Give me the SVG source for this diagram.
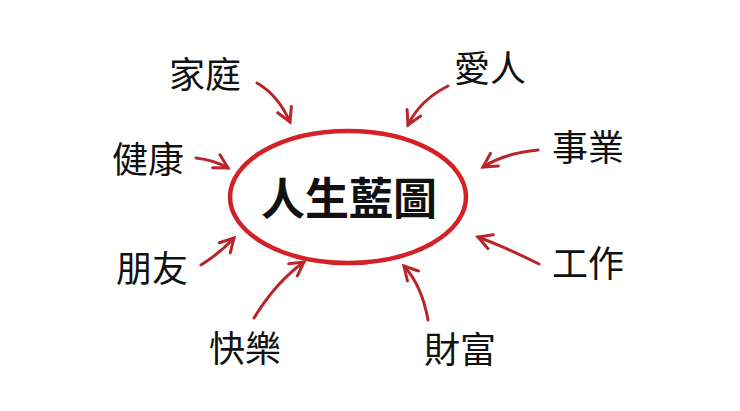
<svg xmlns="http://www.w3.org/2000/svg" width="740" height="411" viewBox="0 0 740 411">
<defs>
<style>
.t{font-family:"Noto Sans CJK TC","Noto Sans CJK SC",sans-serif;font-size:36px;fill:#111;text-anchor:middle;dominant-baseline:central}
.c{font-size:44px;font-weight:bold}
.a{fill:none;stroke:#b8252b;stroke-width:3;stroke-linecap:round}
</style>
<marker id="h" viewBox="0 0 12 12" refX="10" refY="6" markerWidth="6" markerHeight="6" orient="auto" markerUnits="strokeWidth"><path d="M1,1 L10,6 L1,11" fill="none" stroke="#b8252b" stroke-width="2" stroke-linecap="round"/></marker>
</defs>
<rect width="740" height="411" fill="#fff"/>
<g id="center"><ellipse cx="348" cy="197" rx="118" ry="66" fill="none" stroke="#d42027" stroke-width="4.5"/>
<text class="t c" x="349" y="196">人生藍圖</text></g>
<g id="n1"><text class="t" x="205" y="72">家庭</text></g>
<g id="n2"><text class="t" x="490" y="66">愛人</text></g>
<g id="n3"><text class="t" x="588" y="145">事業</text></g>
<g id="n4"><text class="t" x="148" y="157">健康</text></g>
<g id="n5"><text class="t" x="588" y="261">工作</text></g>
<g id="n6"><text class="t" x="152" y="266">朋友</text></g>
<g id="n7"><text class="t" x="245" y="346">快樂</text></g>
<g id="n8"><text class="t" x="460" y="347">財富</text></g>
<g id="connectors">
<path class="a" marker-end="url(#h)" d="M257,83 Q278,95 290,122"/>
<path class="a" marker-end="url(#h)" d="M448,86 Q420,100 408,125"/>
<path class="a" marker-end="url(#h)" d="M538,150 Q505,153 483,167"/>
<path class="a" marker-end="url(#h)" d="M196,158 Q214,160 228,168"/>
<path class="a" marker-end="url(#h)" d="M539,264 Q505,247 478,237"/>
<path class="a" marker-end="url(#h)" d="M201,265 Q220,253 234,238"/>
<path class="a" marker-end="url(#h)" d="M254,318 Q276,282 304,262"/>
<path class="a" marker-end="url(#h)" d="M428,320 Q422,286 404,266"/>
</g>
</svg>
